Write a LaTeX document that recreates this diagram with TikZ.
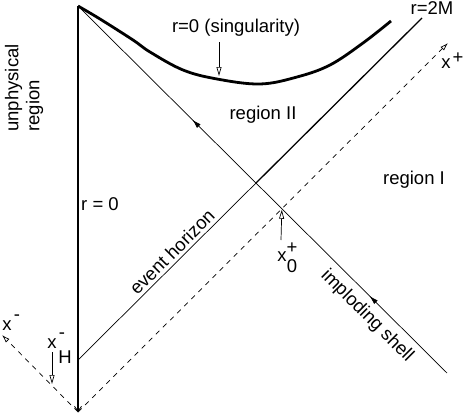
\documentclass[tikz,border=0pt]{standalone}
\usepackage{fontspec}
\setmainfont{Liberation Sans}
\usetikzlibrary{arrows.meta,decorations.markings}

\begin{document}
\begin{tikzpicture}[
        x=1pt, y=-1pt,
        every node/.style={font=\fontsize{18.5}{21}\selectfont, inner sep=0pt},
        worldline/.style={line width=2.8pt},
        thinline/.style={line width=0.7pt},
        axisline/.style={line width=0.7pt, dash pattern=on 5pt off 5pt,
            -{Latex[open, length=8pt, width=5pt]}},
        pointer/.style={line width=0.7pt, -{Triangle[open, length=9pt, width=5pt]}},
        shellarrows/.style={postaction={decorate}, decoration={markings,
            mark=at position 0.21 with {\arrow{Latex[length=9pt, width=5pt]}},
            mark=at position 0.69 with {\arrow{Latex[length=9pt, width=5pt]}}}}
        ]
        \useasboundingbox (0,0) rectangle (466,415);

        \coordinate (top) at (78,6);
        \coordinate (bottom) at (78,412);
        \coordinate (shellend) at (447,373);
        \coordinate (hstart) at (78,360);
        \coordinate (hend) at (422,18);
        \coordinate (xplusend) at (448,43);
        \coordinate (xminusend) at (2,335);
        \coordinate (cross) at (intersection of top--shellend and hstart--hend);
        \coordinate (xzero) at (intersection of top--shellend and bottom--xplusend);

        % r = 0 and the singularity
        \draw[worldline, -{Straight Barb[length=5pt, width=7pt, line width=0.8pt]}] (top) -- (bottom);
        \draw[worldline] plot[smooth, tension=0.6] coordinates {(78,6) (100,19) (133,40)
            (150,52) (183,70) (217,79) (260,84) (297,77) (330,65) (363,43) (391,21)};

        % horizon and shell
        \draw[thinline] (hstart) -- (cross);
        \draw[line width=1.3pt] (cross) -- (hend);
        \draw[thinline, shellarrows] (shellend) -- (top);

        % light cone axes
        \draw[axisline] (bottom) -- (xplusend);
        \draw[axisline] (bottom) -- (xminusend);

        \node (sing) at (236,28) {r=0 (singularity)};
        \node (rtwoM) at (432,8) {r=2M};
        \node (regionII) at (263,115) {region II};
        \node (regionI) at (414,180) {region I};
        \node (rzero) at (100,204) {r = 0};
        \node[rotate=90, align=left] (unphys) at (24,88) {unphysical\\region};
        \node[rotate=45] (horizon) at (172,252) {event horizon};
        \node[rotate=-45] (shell) at (367,316) {imploding shell};

        \node (xp) at (446,64) {x};
        \node (xpsup) at (458,58) {+};
        \node (xm) at (7,326) {x};
        \node (xmsup) at (17,318) {-};
        \node (xh) at (52,344) {x};
        \node (xhsup) at (62,336) {-};
        \node (xhsub) at (65,357) {H};
        \node (xz) at (282,257) {x};
        \node (xzsup) at (292,248) {+};
        \node (xzsub) at (292,266) {0};

        \coordinate (singfrom) at (219,42);
        \coordinate (singto) at (219,76);
        \coordinate (xhfrom) at (52,352);
        \coordinate (xhto) at (52,384);
        \coordinate (xzfrom) at (281,240);
        \draw[pointer] (singfrom) -- (singto);
        \draw[pointer] (xhfrom) -- (xhto);
        \draw[pointer, shorten >=1pt] (xzfrom) -- (xzero);
\end{tikzpicture}
\end{document}
